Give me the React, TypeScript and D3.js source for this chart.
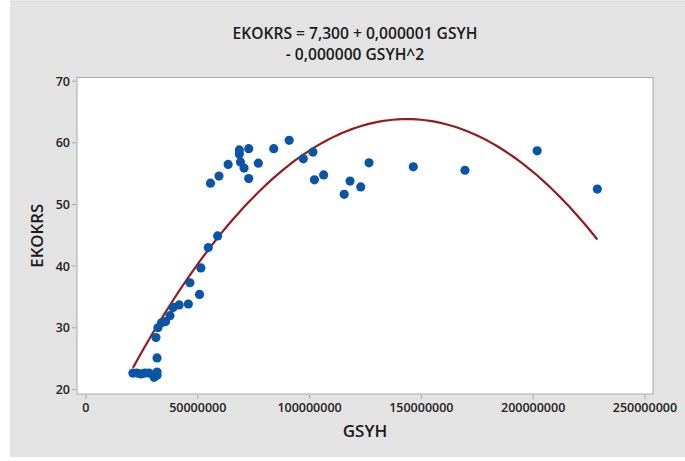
import React from "react";
import * as d3 from "d3";

const gsyh: number[] = [
  21.0e6, 22.8e6, 24.6e6, 26.4e6, 28.2e6, 30.5e6, 31.8e6, 31.8e6, 31.8e6, 31.3e6,
  32.2e6, 33.8e6, 35.6e6, 37.6e6, 39.0e6, 41.7e6, 45.8e6, 46.5e6, 50.8e6, 51.4e6,
  54.7e6, 58.9e6, 55.7e6, 59.5e6, 63.6e6, 68.6e6, 68.6e6, 72.8e6, 69.1e6, 70.7e6,
  72.8e6, 77.1e6, 84.0e6, 90.9e6, 97.2e6, 101.5e6, 102.2e6, 106.3e6, 115.5e6, 118.1e6,
  122.9e6, 126.6e6, 146.4e6, 169.5e6, 201.8e6, 228.7e6,
];
const ekokrs: number[] = [
  22.65, 22.65, 22.5, 22.65, 22.65, 21.95, 22.8, 22.3, 25.1, 28.4,
  30.0, 30.8, 31.0, 31.95, 33.3, 33.7, 33.85, 37.3, 35.4, 39.7,
  43.0, 44.9, 53.45, 54.6, 56.5, 58.85, 58.2, 59.05, 56.9, 55.9,
  54.2, 56.7, 59.05, 60.4, 57.4, 58.5, 54.0, 54.8, 51.65, 53.8,
  52.85, 56.75, 56.1, 55.55, 58.7, 52.5,
];

// fitted quadratic regression coefficients
const intercept = 8.46;
const linCoef = 7.72e-7;
const quadCoef = 2.69e-15;

const xTicks: number[] = [0, 50000000, 100000000, 150000000, 200000000, 250000000];
const yTicks: number[] = [20, 30, 40, 50, 60, 70];
const titleLines: string[] = ["EKOKRS = 7,300 + 0,000001 GSYH", "- 0,000000 GSYH^2"];

const FONT = "'Open Sans', 'Noto Sans', sans-serif";

export default function App() {
  const L = 77, R = 653, T = 77.5, B = 394;
  const x = d3.scaleLinear().domain([-4e6, 253.6e6]).range([L, R]);
  const y = d3.scaleLinear().domain([19.25, 70.6]).range([B, T]);

  const xmin = d3.min(gsyh) as number;
  const xmax = d3.max(gsyh) as number;
  const curveX = d3.range(0, 101).map((i) => xmin + ((xmax - xmin) * i) / 100);
  const fit = (v: number) => intercept + linCoef * v - quadCoef * v * v;
  const line = d3
    .line<number>()
    .x((v) => x(v))
    .y((v) => y(fit(v)));

  return (
    <svg
      width={685}
      height={461}
      style={{ position: "absolute", left: 0, top: 0, display: "block" }}
      fontFamily={FONT}
    >
      <rect x={0} y={0} width={685} height={461} fill="#ffffff" />
      <rect x={10} y={1} width={675} height={456} fill="#e3e3e3" />
      <line x1={10} x2={685} y1={1} y2={1} stroke="#d6d6d6" />
      <rect x={L} y={T} width={R - L} height={B - T} fill="#ffffff" stroke="#a8a8a8" strokeWidth={1} />

      {titleLines.map((t, i) => (
        <text
          key={i}
          x={355}
          y={38.5 + i * 21.5}
          textAnchor="middle"
          fontSize={15.6}
          fontWeight={600}
          fill="#1a1a1a"
        >
          {t}
        </text>
      ))}

      {yTicks.map((t) => (
        <g key={"y" + t}>
          <line x1={72} x2={76} y1={y(t)} y2={y(t)} stroke="#a8a8a8" />
          <text x={70} y={y(t) + 4.5} textAnchor="end" fontSize={12.5} fontWeight={600} fill="#222">
            {t}
          </text>
        </g>
      ))}
      {xTicks.map((t) => (
        <g key={"x" + t}>
          <line x1={x(t)} x2={x(t)} y1={395} y2={399} stroke="#a8a8a8" />
          <text x={x(t)} y={412} textAnchor="middle" fontSize={12.5} fontWeight={600} fill="#222">
            {t}
          </text>
        </g>
      ))}

      <text x={365} y={437} textAnchor="middle" fontSize={17} fontWeight={600} fill="#1a1a1a">
        GSYH
      </text>
      <text
        transform={`translate(43, ${(T + B) / 2}) rotate(-90)`}
        textAnchor="middle"
        fontSize={16.8}
        fontWeight={600}
        fill="#1a1a1a"
      >
        EKOKRS
      </text>

      <path d={line(curveX) || ""} fill="none" stroke="#961b1b" strokeWidth={2.2} />
      {gsyh.map((v, i) => (
        <circle key={i} cx={x(v)} cy={y(ekokrs[i])} r={4.6} fill="#0a55a5" />
      ))}
    </svg>
  );
}
